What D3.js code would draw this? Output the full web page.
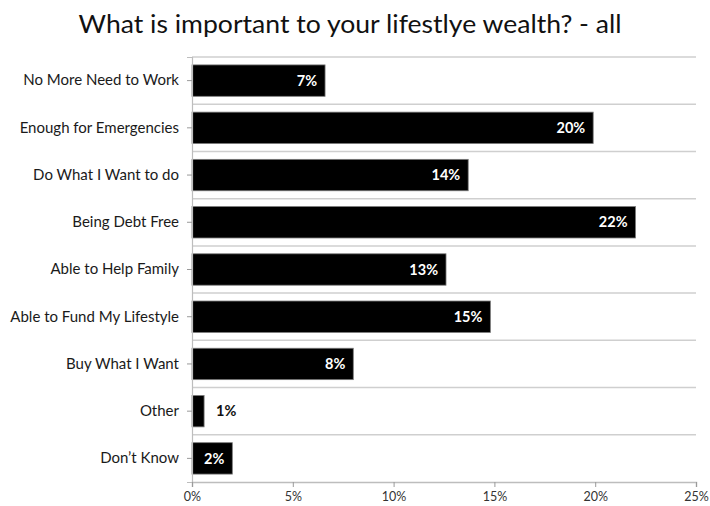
<!DOCTYPE html>
<html>
<head>
<meta charset="utf-8">
<script src="https://cdn.jsdelivr.net/npm/d3@7/dist/d3.min.js"></script>
<style>
  html, body { margin: 0; padding: 0; background: #fff; }
  svg { display: block; }
</style>
</head>
<body>
<svg id="chart" width="710" height="506"></svg>
<script>
// Survey answers, share of respondents (%)
const categories = [
  "No More Need to Work",
  "Enough for Emergencies",
  "Do What I Want to do",
  "Being Debt Free",
  "Able to Help Family",
  "Able to Fund My Lifestyle",
  "Buy What I Want",
  "Other",
  "Don\u2019t Know"
];
const values = [6.6, 19.9, 13.7, 22.0, 12.6, 14.8, 8.0, 0.6, 2.0];
const xTicks = [0, 5, 10, 15, 20, 25];
const titleText = "What is important to your lifestlye wealth? - all";

const svg = d3.select("#chart");
const W = 710, H = 506;
const margin = { top: 57, right: 14, bottom: 24, left: 192 };
const plotW = W - margin.left - margin.right;
const plotH = H - margin.top - margin.bottom;

const data = categories.map((c, i) => ({ cat: c, val: values[i] }));

const x = d3.scaleLinear().domain([0, 25]).range([0, plotW]);
const y = d3.scaleBand().domain(categories).range([0, plotH]).paddingInner(0.335).paddingOuter(0.1675);

const fontFam = "Lato, 'Open Sans', 'DejaVu Sans', sans-serif";

// Title
svg.append("text")
  .attr("x", 350)
  .attr("y", 33)
  .attr("text-anchor", "middle")
  .attr("font-family", fontFam)
  .attr("font-size", 25)
  .attr("fill", "#111")
  .attr("textLength", 543)
  .attr("lengthAdjust", "spacingAndGlyphs")
  .text(titleText);

const g = svg.append("g").attr("transform", `translate(${margin.left},${margin.top})`);

// Horizontal separators between categories
const step = y.step();
const bounds = d3.range(categories.length).map(i => i * step);
g.append("g").selectAll("line")
  .data(bounds)
  .join("line")
  .attr("x1", 0).attr("x2", plotW)
  .attr("y1", d => d).attr("y2", d => d)
  .attr("stroke", "#cfcfcf")
  .attr("stroke-width", 1.5);

// Bars
g.append("g").selectAll("rect")
  .data(data)
  .join("rect")
  .attr("x", 0)
  .attr("y", d => y(d.cat))
  .attr("width", d => x(d.val))
  .attr("height", y.bandwidth())
  .attr("fill", "#000")
  .attr("stroke", "#7a7a7a")
  .attr("stroke-width", 0.8);

// Value labels: inside the bar when it fits, otherwise just past its end
const fmt = v => d3.format(".0f")(v) + "%";
g.append("g").selectAll("text")
  .data(data)
  .join("text")
  .attr("x", d => x(d.val) >= 30 ? x(d.val) - 8 : x(d.val) + 12)
  .attr("y", d => y(d.cat) + y.bandwidth() / 2)
  .attr("dy", "0.36em")
  .attr("text-anchor", d => x(d.val) >= 30 ? "end" : "start")
  .attr("font-family", fontFam)
  .attr("font-weight", "bold")
  .attr("font-size", 14.5)
  .attr("fill", d => x(d.val) >= 30 ? "#fff" : "#111")
  .text(d => fmt(d.val));

// Left axis with category names
const yAxis = d3.axisLeft(y).tickSize(5).tickPadding(8);
const ya = g.append("g").call(yAxis);
ya.select(".domain").attr("stroke", "#bdbdbd").attr("stroke-width", 1.2);
ya.selectAll(".tick line").attr("stroke", "#9a9a9a");
ya.selectAll(".tick text")
  .attr("font-family", fontFam)
  .attr("font-size", 15)
  .attr("fill", "#1a1a1a");

// Bottom axis with percentages
const xAxis = d3.axisBottom(x).tickValues(xTicks).tickSize(5).tickPadding(5).tickFormat(d => d + "%");
const xa = g.append("g").attr("transform", `translate(0,${plotH})`).call(xAxis);
xa.select(".domain").attr("stroke", "#bdbdbd").attr("stroke-width", 1.5);
xa.selectAll(".tick line").attr("stroke", "#9a9a9a");
xa.selectAll(".tick text")
  .attr("font-family", fontFam)
  .attr("font-size", 12.5)
  .attr("fill", "#333");
</script>
</body>
</html>
